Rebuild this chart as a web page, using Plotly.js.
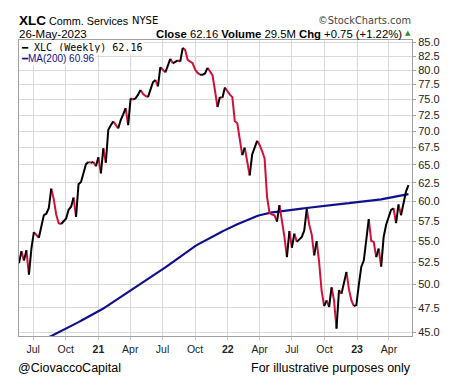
<!DOCTYPE html>
<html><head><meta charset="utf-8">
<script src="https://cdn.plot.ly/plotly-3.0.1.min.js"></script>
<style>html,body{margin:0;padding:0;background:#fff}#chart{width:460px;height:390px}</style>
</head><body><div id="chart"></div>
<script>
// Weekly closes of XLC, starting week ending 2020-05-22
const startDate = '2020-05-22';
const closes = [
52.4,53.8,52.7,53.9,51.1,54.1,56.1,55.8,55.4,56.8,
58.2,58.4,59.1,61.7,60.3,58.3,57.2,57.1,57.4,57.8,
58.9,59.3,60.5,58.0,62.3,62.6,64.0,65.1,65.4,65.3,
65.4,64.8,66.1,63.8,67.4,65.3,70.2,70.9,71.5,71.0,
70.4,71.7,72.6,73.6,70.9,75.2,75.0,75.2,75.8,76.6,
75.9,75.6,75.4,76.8,77.9,78.3,77.2,80.5,80.0,79.6,
80.8,82.0,81.2,81.5,81.7,81.5,84.0,83.6,81.8,81.5,
81.2,80.1,79.5,79.2,79.2,79.4,80.4,79.8,79.1,76.5,
73.8,75.4,75.3,77.0,76.3,75.8,75.4,71.5,71.2,68.6,
66.4,67.5,65.6,63.5,66.5,67.5,68.5,67.9,67.0,65.9,
60.6,58.5,58.3,58.2,57.4,59.5,57.5,55.5,53.1,56.2,
54.2,55.9,54.9,55.2,55.5,56.3,59.0,57.0,55.8,53.3,
55.0,52.5,49.3,47.7,48.3,47.6,49.7,48.3,45.4,49.4,
49.0,50.2,51.4,49.5,48.3,47.7,47.8,50.0,52.0,52.7,
55.5,57.7,55.0,54.9,53.1,54.1,52.0,55.5,57.0,58.0,
58.9,59.1,57.2,59.6,58.2,59.6,61.3,62.16
];
const ma200 = [
null,null,null,null,null,null,null,null,null,null,
null,44.42,44.55,44.67,44.79,44.91,45.03,45.15,45.27,45.4,
45.53,45.66,45.79,45.92,46.05,46.18,46.31,46.44,46.57,46.70,
46.83,46.96,47.1,47.27,47.44,47.61,47.78,47.95,48.12,48.29,
48.46,48.63,48.8,48.97,49.14,49.3,49.48,49.66,49.85,50.03,
50.22,50.4,50.59,50.77,50.96,51.14,51.33,51.51,51.7,51.91,
52.12,52.33,52.54,52.75,52.96,53.17,53.38,53.59,53.8,54.0,
54.2,54.4,54.57,54.74,54.9,55.06,55.22,55.38,55.54,55.7,
55.86,56.02,56.18,56.34,56.5,56.64,56.78,56.92,57.06,57.2,
57.34,57.48,57.62,57.76,57.88,58.0,58.1,58.2,58.29,58.37,
58.44,58.5,58.56,58.61,58.66,58.71,58.75,58.79,58.83,58.87,
58.9,58.94,58.98,59.02,59.06,59.1,59.14,59.18,59.22,59.27,
59.32,59.37,59.42,59.47,59.5,59.53,59.56,59.59,59.62,59.65,
59.68,59.71,59.74,59.77,59.8,59.83,59.86,59.89,59.92,59.95,
59.98,60.02,60.06,60.1,60.15,60.2,60.26,60.32,60.38,60.44,
60.51,60.58,60.65,60.72,60.79,60.85,60.91,60.96
];
const tickDates = ['2020-07-01','2020-10-01','2021-01-01','2021-04-01','2021-07-01','2021-10-01','2022-01-01','2022-04-01','2022-07-01','2022-10-01','2023-01-01','2023-04-01'];
const tickLabels = ['Jul','Oct','<b>21</b>','Apr','Jul','Oct','<b>22</b>','Apr','Jul','Oct','<b>23</b>','Apr'];
const yTicks = [45,47.5,50,52.5,55,57.5,60,62.5,65,67.5,70,72.5,75,77.5,80,82.5,85];

// weekly dates
const dates = [];
const d0 = new Date(startDate + 'T00:00:00Z');
for (let i = 0; i < closes.length; i++) {
  const d = new Date(d0.getTime() + i * 7 * 86400000);
  dates.push(d.toISOString().slice(0, 10));
}
// split into up (black) and down (red) segments
function segs(up) {
  const x = [], y = [];
  let prev = false;
  for (let i = 1; i < closes.length; i++) {
    const isUp = closes[i] >= closes[i - 1];
    if (isUp === up) {
      if (!prev) { if (x.length) { x.push(null); y.push(null); } x.push(dates[i - 1]); y.push(closes[i - 1]); }
      x.push(dates[i]); y.push(closes[i]);
      prev = true;
    } else prev = false;
  }
  return {x, y};
}
const upS = segs(true), dnS = segs(false);
const traces = [
  {x: dates, y: ma200, type: 'scatter', mode: 'lines', line: {color: '#10108c', width: 2.2}, hoverinfo: 'skip', connectgaps: false},
  {x: dnS.x, y: dnS.y, type: 'scatter', mode: 'lines', line: {color: '#d0103a', width: 2}, connectgaps: false},
  {x: upS.x, y: upS.y, type: 'scatter', mode: 'lines', line: {color: '#000000', width: 2}, connectgaps: false}
];
const L = 19, R = 48, T = 40, B = 54, W = 460, H = 390;
const pw = W - L - R, ph = H - T - B;
const px = x => (x - L) / pw;
const py = y => (H - B - y) / ph;
const F = 'Liberation Sans, Arial, sans-serif';
function ann(text, x, y, opts) {
  return Object.assign({text, x: px(x), y: py(y), xref: 'paper', yref: 'paper', showarrow: false,
    xanchor: 'left', yanchor: 'middle', font: {family: F, size: 12, color: '#000'}}, opts || {});
}
const annotations = [
  ann('<b>XLC</b>', 17, 21, {font: {family: F, size: 13.5, color: '#000'}}),
  ann('Comm. Services', 47, 21, {font: {family: F, size: 10.8, color: '#000'}}),
  ann('NYSE', 130, 21, {font: {family: 'DejaVu Sans, sans-serif', size: 10, color: '#000'}}),
  ann('©StockCharts.com', 413, 21, {xanchor: 'right', font: {family: 'DejaVu Sans, sans-serif', size: 9.8, color: '#444'}}),
  ann('26-May-2023', 17, 34, {font: {family: F, size: 11.5, color: '#000'}}),
  ann('<b>Close</b> 62.16 <b>Volume</b> 29.5M <b>Chg</b> +0.75 (+1.22%)', 404, 34, {xanchor: 'right', font: {family: F, size: 11.3, color: '#000'}}),
  ann('▲', 403, 33, {font: {family: 'DejaVu Sans, sans-serif', size: 7, color: '#2e8b3a'}}),
  ann('<span style="color:#000">━</span> XLC (Weekly) 62.16', 19, 47, {bgcolor: '#fff', font: {family: 'DejaVu Sans Mono, monospace', size: 10, color: '#000'}}),
  ann('<span style="color:#10108c">━</span>MA(200) 60.96', 19, 58, {bgcolor: '#fff', font: {family: F, size: 10, color: '#10108c'}}),
  ann('@CiovaccoCapital', 16, 368, {font: {family: F, size: 12.5, color: '#000'}}),
  ann('For illustrative purposes only', 249, 368, {font: {family: F, size: 12.5, color: '#000'}})
];
const layout = {
  width: W, height: H, margin: {l: L, r: R, t: T, b: B, pad: 0},
  paper_bgcolor: '#fff', plot_bgcolor: '#fff', showlegend: false,
  xaxis: {type: 'date', range: ['2020-05-22', '2023-06-05'], tickvals: tickDates, ticktext: tickLabels,
    showgrid: true, gridcolor: '#d9d9d9', gridwidth: 1, showline: true, mirror: true, linecolor: '#a0a0a0', linewidth: 1,
    ticks: 'outside', ticklen: 3, tickcolor: '#c8c8c8', tickfont: {family: F, size: 10.5, color: '#222'}, zeroline: false, fixedrange: true},
  yaxis: {type: 'log', side: 'right', range: [Math.log10(44.67), Math.log10(85.45)], tickvals: yTicks,
    ticktext: yTicks.map(v => v.toFixed(1)), showgrid: true, gridcolor: '#d9d9d9', gridwidth: 1,
    showline: true, mirror: true, linecolor: '#a0a0a0', linewidth: 1, ticks: 'outside', ticklen: 3, tickcolor: '#a0a0a0',
    tickfont: {family: F, size: 11, color: '#222'}, zeroline: false, fixedrange: true},
  annotations
};
Plotly.newPlot('chart', traces, layout, {displayModeBar: false, staticPlot: true});
</script></body></html>
